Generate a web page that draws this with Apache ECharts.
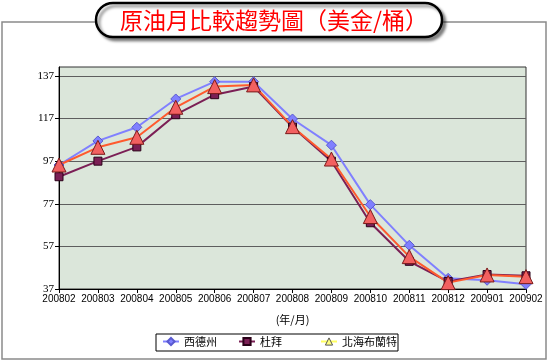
<!DOCTYPE html>
<html><head><meta charset="utf-8">
<script src="https://cdn.jsdelivr.net/npm/echarts@6/dist/echarts.min.js"></script>
<style>html,body{margin:0;padding:0;background:#fff}#c{width:549px;height:361px}</style>
</head><body><div id="c"></div>
<script>
const titleText = '原油月比較趨勢圖（美金/桶）';
const xAxisName = '(年/月)';
const months = ['200802','200803','200804','200805','200806','200807','200808','200809','200810','200811','200812','200901','200902'];
const yTicks = [37, 57, 77, 97, 117, 137];
const seriesNames = ['西德州', '杜拜', '北海布蘭特'];
const wti   = [95.2, 106.5, 112.9, 126.2, 134.3, 134.3, 116.8, 104.5, 76.6, 57.5, 42.0, 41.1, 39.2];
const dubai = [89.7, 97.0, 103.7, 118.8, 128.2, 132.0, 113.0, 97.0, 68.1, 50.0, 40.5, 43.8, 43.2];
const brent = [95.2, 103.5, 108.2, 122.3, 132.0, 132.8, 113.2, 98.0, 71.0, 52.2, 40.0, 43.6, 42.8];

const chart = echarts.init(document.getElementById('c'), null, {renderer: 'canvas'});
const legendBase = {top: 336, itemWidth: 16, itemHeight: 9, itemGap: 0, padding: 0,
  textStyle: {fontSize: 11, color: '#000', fontFamily: 'Noto Sans CJK TC'}};
chart.setOption({
  animation: false,
  backgroundColor: '#fff',
  graphic: [
    {type: 'rect', shape: {x: 2, y: 22, width: 544, height: 337}, style: {fill: 'none', stroke: '#8a8a8a', lineWidth: 1.5}, z: 0},
    {type: 'rect', shape: {x: 96, y: 3, width: 346, height: 34, r: 17},
     style: {fill: '#fff', stroke: '#000', lineWidth: 2.5, shadowColor: 'rgba(0,0,0,0.45)', shadowBlur: 3, shadowOffsetX: 3, shadowOffsetY: 3}, z: 10},
    {type: 'text', x: 274, y: 20, z: 11,
     style: {text: titleText, fill: '#ff0000', font: '23px "Noto Sans CJK TC"', textAlign: 'center', textVerticalAlign: 'middle'}},
    {type: 'rect', shape: {x: 156, y: 334, width: 242, height: 17}, style: {fill: 'none', stroke: '#000', lineWidth: 1}, z: 0}
  ],
  legend: [
    Object.assign({}, legendBase, {left: 162, data: [seriesNames[0]]}),
    Object.assign({}, legendBase, {left: 238, data: [seriesNames[1]]}),
    Object.assign({}, legendBase, {left: 320, data: [{name: seriesNames[2], itemStyle: {color: '#ffff80', borderColor: '#555', borderWidth: 1}, lineStyle: {color: '#ffff60'}}]})
  ],
  grid: {left: 59, top: 67, right: 23, bottom: 72, show: true, backgroundColor: '#dbe6da', borderColor: '#333', borderWidth: 1},
  xAxis: {
    type: 'category', data: months, boundaryGap: false,
    name: xAxisName, nameLocation: 'middle', nameGap: 25,
    nameTextStyle: {fontSize: 11, color: '#000', fontFamily: 'Noto Sans CJK TC'},
    axisLine: {lineStyle: {color: '#000', width: 1}},
    axisTick: {show: true, inside: false, length: 4, alignWithLabel: true, lineStyle: {color: '#000'}},
    axisLabel: {interval: 0, fontSize: 10, color: '#000', fontFamily: 'Liberation Sans', margin: 5},
    splitLine: {show: false}
  },
  yAxis: {
    type: 'value', min: 37, max: 141.2,
    axisLine: {show: true, lineStyle: {color: '#000', width: 1}},
    axisTick: {show: true, length: 4, lineStyle: {color: '#000'}, customValues: yTicks},
    axisLabel: {fontSize: 11, color: '#000', fontFamily: 'Liberation Serif', margin: 5, customValues: yTicks},
    splitLine: {show: true, lineStyle: {color: '#5e5e5e', width: 1.2}}
  },
  series: [
    {name: seriesNames[0], type: 'line', data: wti, symbol: 'diamond', symbolSize: 10,
     lineStyle: {color: '#8080ff', width: 2}, itemStyle: {color: '#8080ff', borderColor: '#5a5ad0', borderWidth: 1}},
    {name: seriesNames[1], type: 'line', data: dubai, symbol: 'rect', symbolSize: 8,
     lineStyle: {color: '#7b1f55', width: 2}, itemStyle: {color: '#7b1f55', borderColor: '#2a0018', borderWidth: 1}},
    {name: seriesNames[2], type: 'line', data: brent, symbol: 'triangle', symbolSize: 14,
     lineStyle: {color: '#ff5a2e', width: 2}, itemStyle: {color: '#f26060', borderColor: '#7a1a1a', borderWidth: 1}}
  ]
});
</script></body></html>
